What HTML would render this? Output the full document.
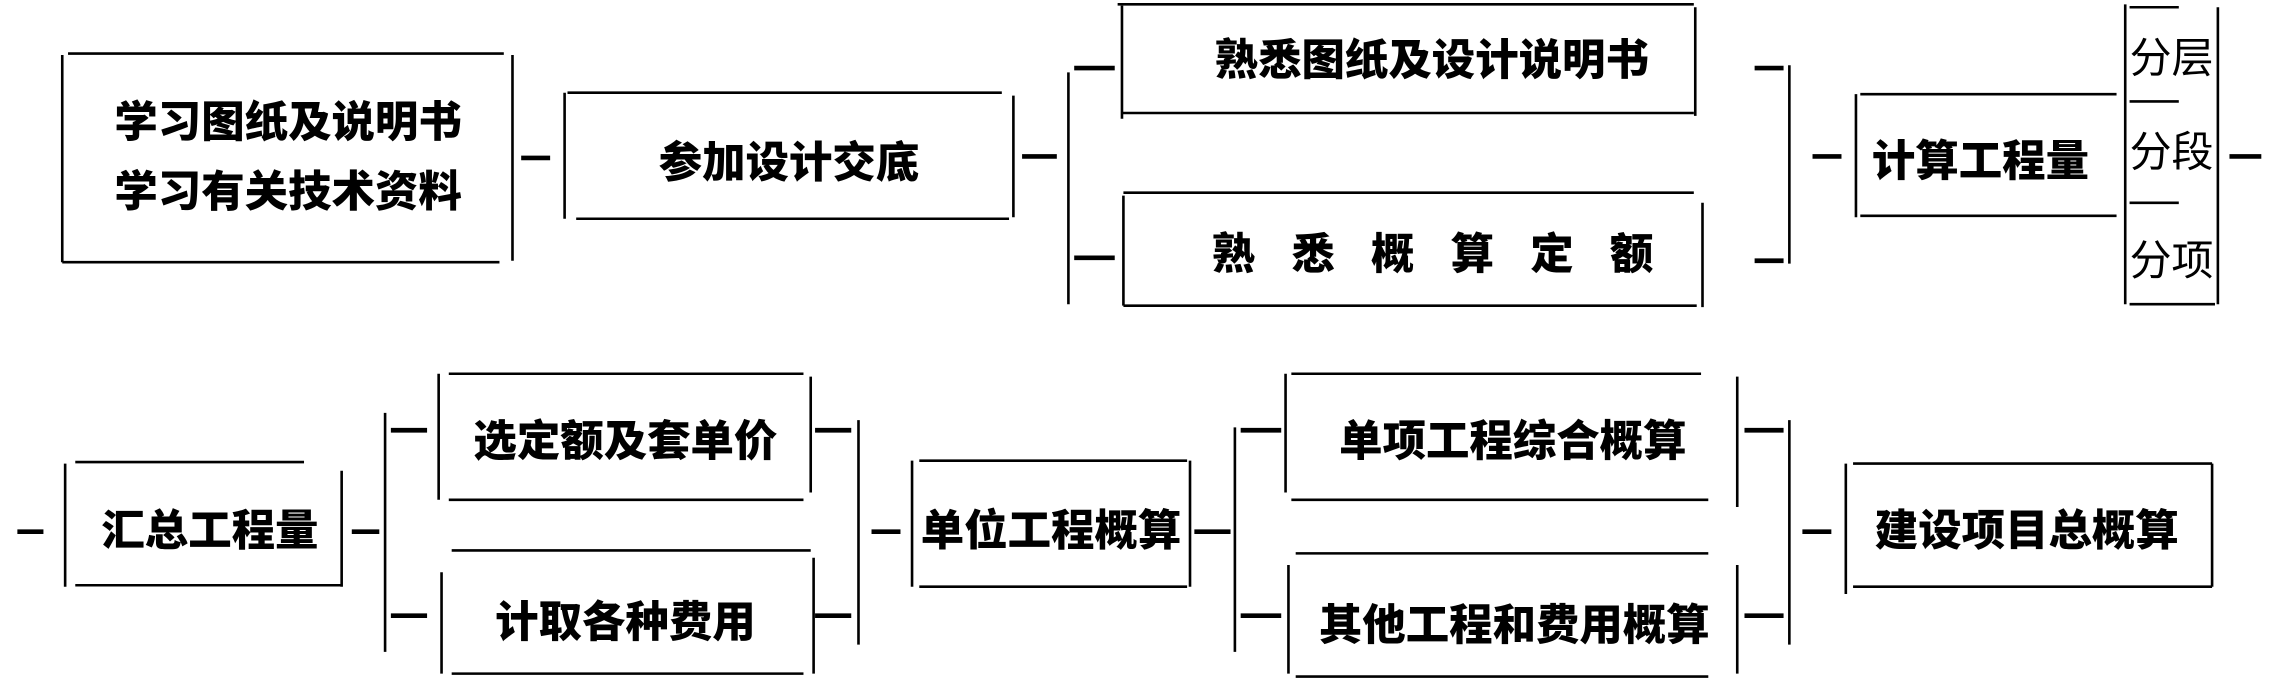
<!DOCTYPE html>
<html><head><meta charset="utf-8"><style>
html,body{margin:0;padding:0;background:#fff;}
svg{display:block;}
text{font-family:"Liberation Sans","Noto Sans CJK SC","WenQuanYi Zen Hei",sans-serif;font-weight:900;fill:#000;text-anchor:middle;dominant-baseline:central;}
text.n{font-weight:400;}
</style></head><body>
<svg width="2270" height="691" viewBox="0 0 1568 477" preserveAspectRatio="none">
<g stroke="#000" stroke-width="1.8" fill="none">
<path d="M47 37H348M43 38V181M354 38V180M43 181H345"/>
<path d="M392 64H692M390 64V151M700 66V150M398 151H697"/>
<path d="M772 3H1170M775 4V82M1171 5V80M775 78H1170"/>
<path d="M776 133H1170M776 135V211M1176 140V212M776 211H1172"/>
<path d="M738 50V210M1236 45V182"/>
<path d="M1285 65H1462M1282 65V150M1285 149H1462"/>
<path d="M1471 5H1505M1468 3V210M1532 5V210M1471 70H1505M1471 140H1505M1471 210H1530"/>
<path d="M52 319H210M45 320V405M236 325V405M52 404H236"/>
<path d="M266 285V450M593 290V445M853 295V450M1236 290V445"/>
<path d="M310 258H555M303 258V345M560 260V340M310 345H555"/>
<path d="M312 380H560M305 395V465M562 385V465M312 465H555"/>
<path d="M635 318H820M630 318V405M822 318V405M635 405H820"/>
<path d="M892 258H1175M888 258V340M1200 260V350M892 345H1180"/>
<path d="M895 382H1180M890 390V465M1200 390V465M895 467H1180"/>
<path d="M1280 320H1528M1275 320V410M1528 320V405M1280 405H1528"/>
</g>
<g stroke="#000" stroke-width="3.2" fill="none">
<path d="M360 109H380M706 108H730M742 47H770M742 178H770M1212 47H1232M1212 180H1232M1252 108H1272M1540 108H1562"/>
<path d="M12 367H30M243 367H262M270 297H295M270 425H295M563 297H588M563 425H588M602 367H622M825 367H850M857 297H885M857 425H885M1205 297H1232M1205 425H1232M1245 367H1265"/>
</g>
<g font-size="30">
<text x="199" y="85">学习图纸及说明书</text>
<text x="199" y="133">学习有关技术资料</text>
<text x="545" y="113">参加设计交底</text>
<text x="989" y="42">熟悉图纸及设计说明书</text>
<text x="1002" y="176" letter-spacing="25">熟悉概算定额</text>
<text x="1368" y="112">计算工程量</text>
<text class="n" x="1500" y="40" font-size="29">分层</text>
<text class="n" x="1500" y="105" font-size="29">分段</text>
<text class="n" x="1500" y="180" font-size="29">分项</text>
<text x="145" y="367">汇总工程量</text>
<text x="432" y="305">选定额及套单价</text>
<text x="432" y="430">计取各种费用</text>
<text x="726" y="367">单位工程概算</text>
<text x="1045" y="305">单项工程综合概算</text>
<text x="1046" y="432">其他工程和费用概算</text>
<text x="1400" y="367">建设项目总概算</text>
</g>
</svg>
</body></html>
